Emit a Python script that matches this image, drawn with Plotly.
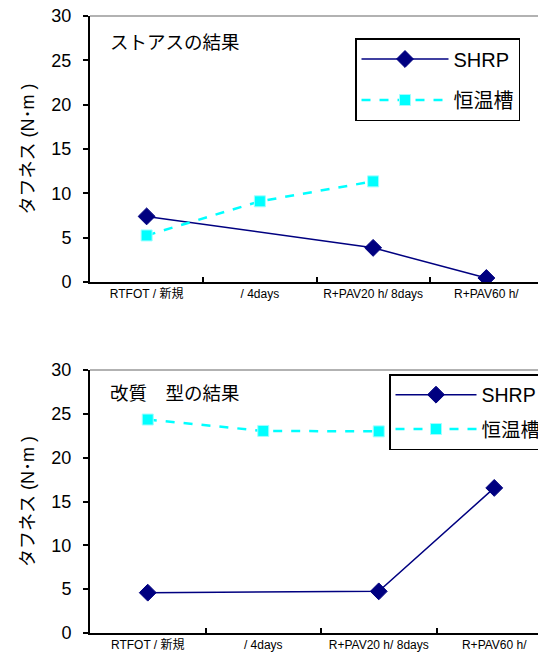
import plotly.graph_objects as go

categories = ["RTFOT / 新規", "/ 4days", "R+PAV20 h/ 8days", "R+PAV60 h/"]
top_shrp = [7.4, None, 3.85, 0.45]
top_bath = [5.25, 9.1, 11.35, None]
bot_shrp = [4.6, None, 4.75, 16.55]
bot_bath = [24.35, 23.05, 23.0, None]
series_names = ["SHRP", "恒温槽"]
yticks = [0, 5, 10, 15, 20, 25, 30]
titles = ["ストアスの結果", "改質　型の結果"]
ytitle = "タフネス (N･m )"

# the page adds an 8px body margin, so page pixel p sits at figure pixel p - 8
OFF = 8
W, H = 546, 664
FONT = "Liberation Sans, Arial, Noto Sans CJK JP"
NAVY = "#000080"
CYAN = "#00FFFF"

fig = go.Figure()

def add_pair(shrp, bath, xa, ya, leg):
    fig.add_trace(go.Scatter(
        x=categories, y=shrp, name=series_names[0], xaxis=xa, yaxis=ya,
        mode="lines+markers", connectgaps=True, legend=leg, legendgroup=leg + "a",
        line=dict(color=NAVY, width=1.5),
        marker=dict(symbol="diamond", size=13, color=NAVY, line=dict(color=NAVY, width=1)),
    ))
    fig.add_trace(go.Scatter(
        x=categories, y=bath, name=series_names[1], xaxis=xa, yaxis=ya,
        mode="lines+markers", connectgaps=True, legend=leg, legendgroup=leg + "b",
        line=dict(color=CYAN, width=2.5, dash="dash"),
        marker=dict(symbol="square", size=11, color=CYAN, line=dict(color="#9FFFFF", width=1)),
    ))

add_pair(top_shrp, top_bath, "x", "y", "legend")
add_pair(bot_shrp, bot_bath, "x2", "y2", "legend2")

def px(v):
    return min(1.0, (v - OFF) / W)

def py(v):
    return max(0.0, 1 - (v - OFF) / H)

xcommon = dict(type="category", categoryorder="array", categoryarray=categories,
               tickson="boundaries", ticks="inside", ticklen=5, tickwidth=1.5, tickcolor="black",
               showline=True, linecolor="black", linewidth=2, showgrid=False, zeroline=False,
               tickangle=0, range=[-0.5, 3.5], automargin=False, ticklabeloverflow="allow",
               tickfont=dict(family=FONT, size=12, color="black"), fixedrange=True)
ycommon = dict(range=[0, 30], tickvals=yticks, ticks="outside", ticklen=5, tickwidth=1.5,
               tickcolor="black", showline=True, linecolor="black", linewidth=2,
               showgrid=False, zeroline=False, ticklabelstandoff=8, automargin=False,
               ticklabeloverflow="allow",
               tickfont=dict(family=FONT, size=18, color="black"),
               title=dict(text=ytitle, font=dict(family=FONT, size=18, color="black"), standoff=12))

fig.update_layout(
    width=W, height=H, margin=dict(l=0, r=0, t=0, b=0, autoexpand=False),
    paper_bgcolor="white", plot_bgcolor="white",
    font=dict(family=FONT, color="black"),
    xaxis=dict(domain=[px(90), px(543)], anchor="y", **xcommon),
    yaxis=dict(domain=[py(282), py(16)], anchor="x", **ycommon),
    xaxis2=dict(domain=[px(90), px(552)], anchor="y2", **xcommon),
    yaxis2=dict(domain=[py(633), py(370)], anchor="x2", **ycommon),
    legend=dict(x=px(355), y=py(38), xanchor="left", yanchor="top",
                bordercolor="black", borderwidth=1.5, bgcolor="white",
                font=dict(family=FONT, size=20, color="black"), itemwidth=87,
                tracegroupgap=12, traceorder="grouped"),
    legend2=dict(x=px(389), y=py(374), xanchor="left", yanchor="top",
                 bordercolor="black", borderwidth=1.5, bgcolor="white",
                 font=dict(family=FONT, size=19.5, color="black"), itemwidth=81,
                 tracegroupgap=6, traceorder="grouped"),
    showlegend=True,
)

# grey top/right borders of plot areas
for xr, yr in [("x", "y"), ("x2", "y2")]:
    fig.add_shape(type="line", xref=xr + " domain", yref=yr + " domain",
                  x0=0, x1=1, y0=1, y1=1, line=dict(color="#999999", width=1.5))
fig.add_shape(type="line", xref="x domain", yref="y domain",
              x0=1, x1=1, y0=0, y1=1, line=dict(color="#999999", width=1.5))

fig.add_annotation(text=titles[0], xref="paper", yref="paper", x=px(108), y=py(43),
                   xanchor="left", yanchor="middle", showarrow=False,
                   font=dict(family=FONT, size=18.5, color="black"))
fig.add_annotation(text=titles[1], xref="paper", yref="paper", x=px(108), y=py(393),
                   xanchor="left", yanchor="middle", showarrow=False,
                   font=dict(family=FONT, size=18.5, color="black"))

fig.write_html("out.html", config={"displayModeBar": False})
